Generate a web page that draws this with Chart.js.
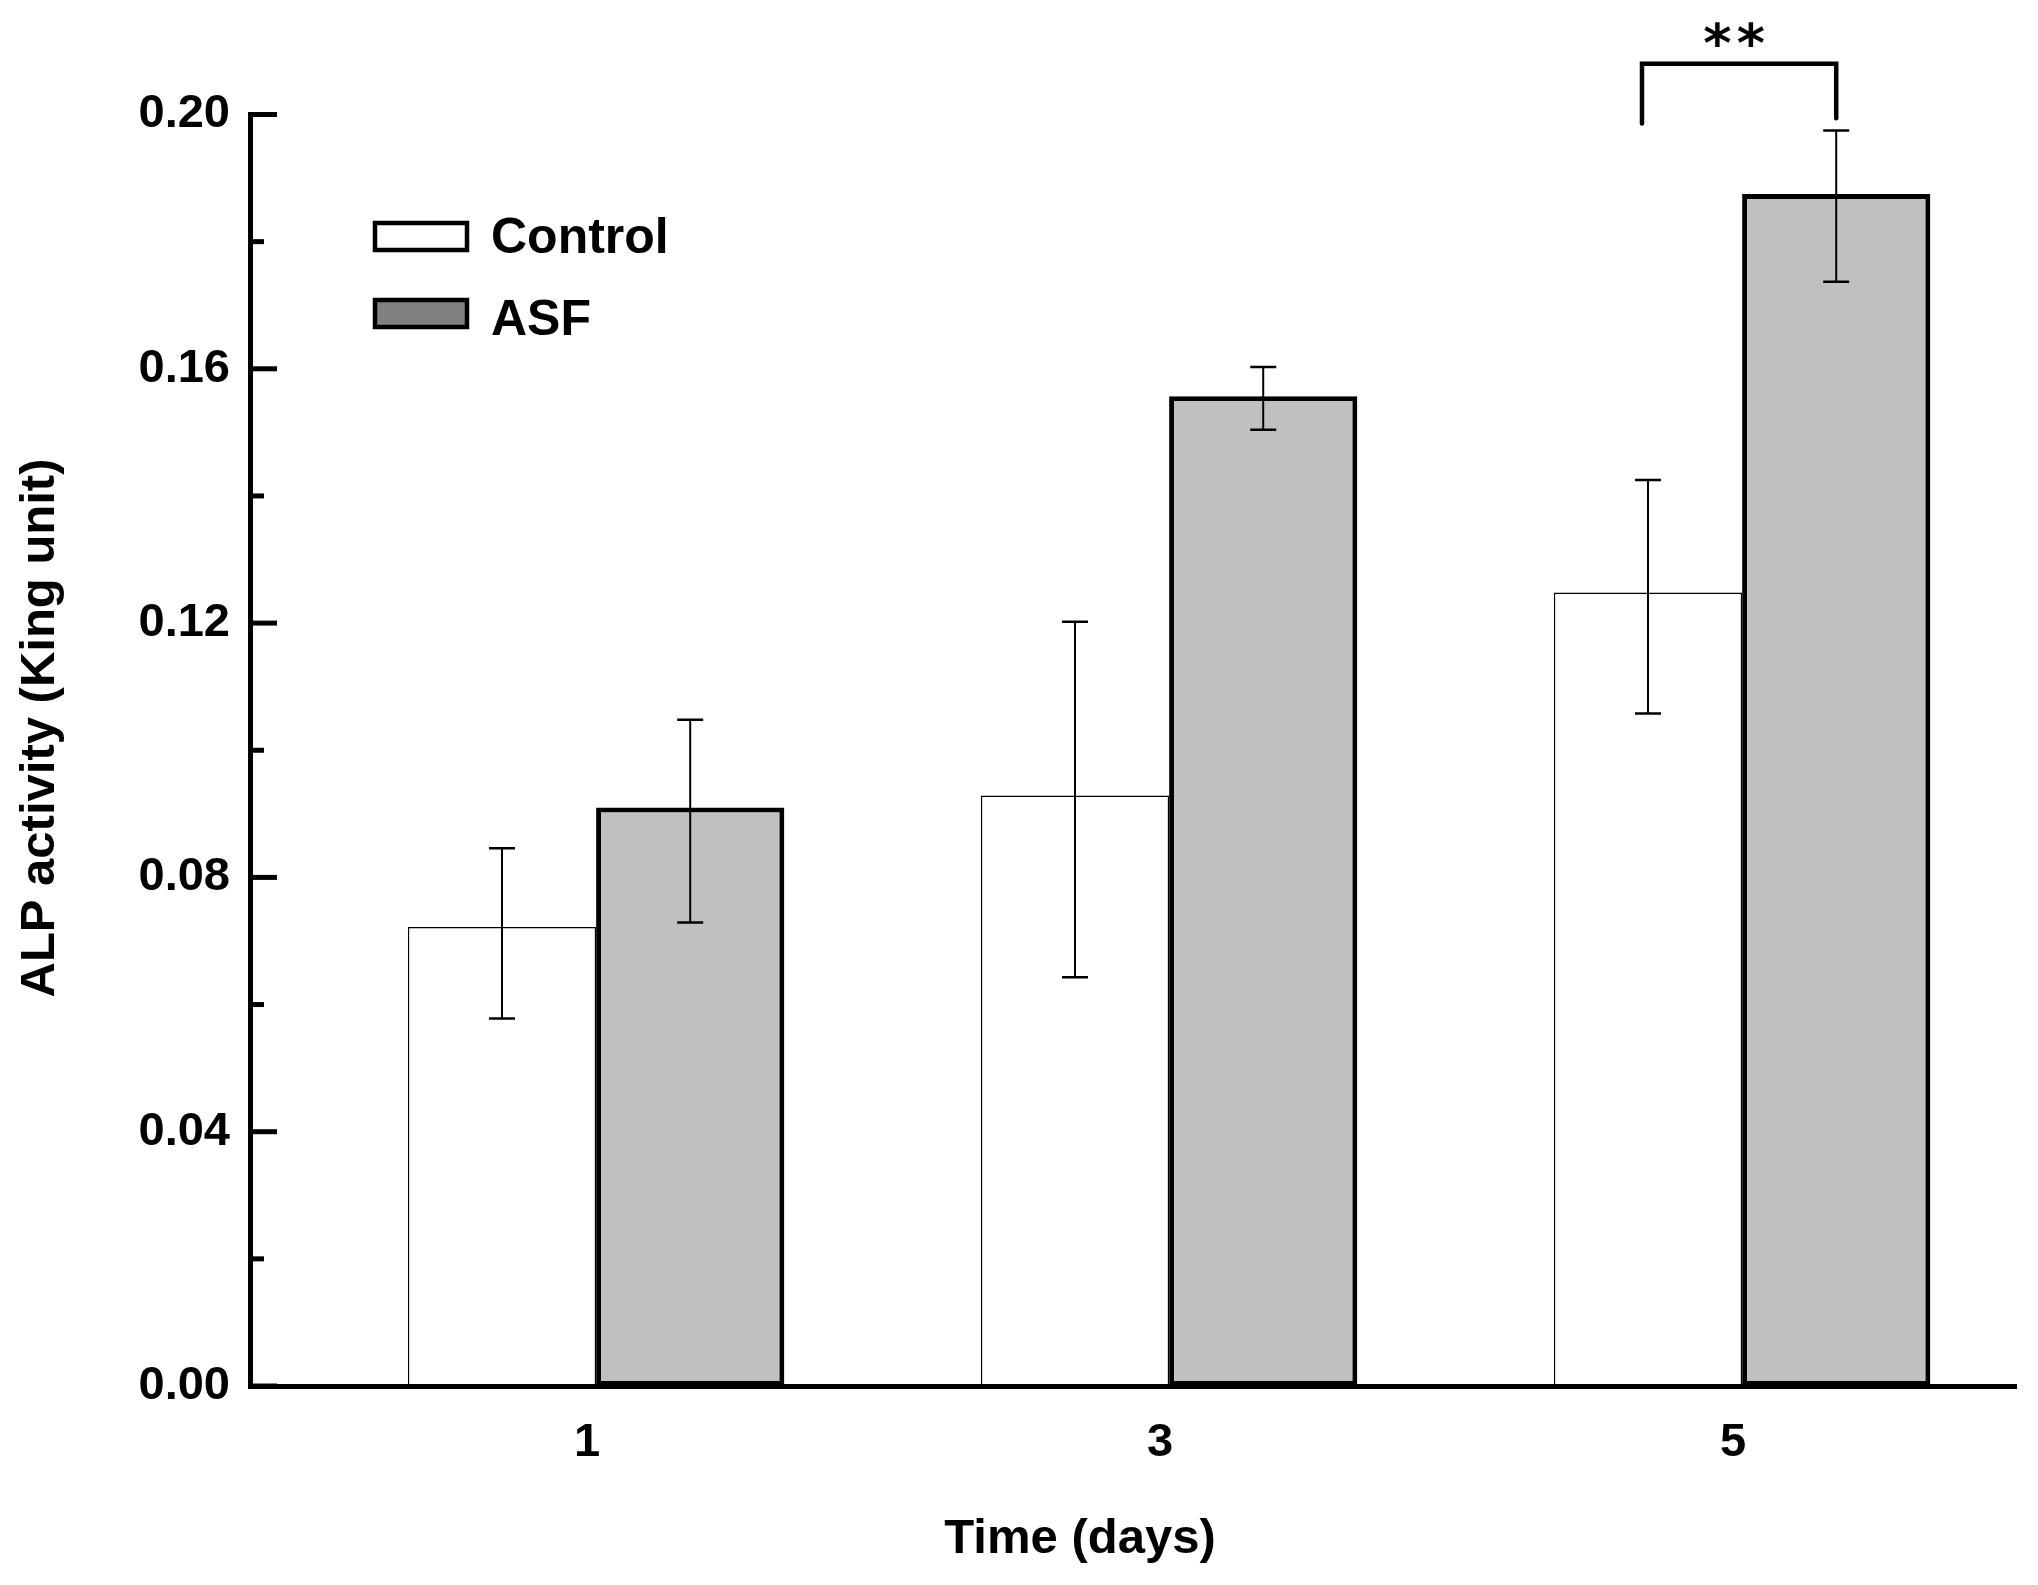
<!DOCTYPE html>
<html>
<head>
<meta charset="utf-8">
<style>
  html, body { margin: 0; padding: 0; background: #ffffff; }
  #wrap { width: 2038px; height: 1585px; position: relative; }
</style>
<script src="https://cdn.jsdelivr.net/npm/chart.js@4.4.0/dist/chart.umd.min.js"></script>
</head>
<body>
<div id="wrap"><canvas id="chart"></canvas></div>
<script>
// ---- data ----
const days = [1, 3, 5];
const xTickLabels = ['1', '3', '5'];
const seriesNames = ['Control', 'ASF'];
const controlMeans = [0.0722, 0.0929, 0.1248];
const asfMeans = [0.0910, 0.1557, 0.1875];
const controlErrLow = [0.0144, 0.0286, 0.0190];
const controlErrHigh = [0.0124, 0.0273, 0.0177];
const asfErrLow = [0.0181, 0.0053, 0.0138];
const asfErrHigh = [0.0138, 0.0046, 0.0100];
const yTickValues = [0, 0.02, 0.04, 0.06, 0.08, 0.10, 0.12, 0.14, 0.16, 0.18, 0.20];
const yTickLabels = ['0.00', '', '0.04', '', '0.08', '', '0.12', '', '0.16', '', '0.20'];
const significanceLabel = '**';
const xTitle = 'Time (days)';
const yTitle = 'ALP activity (King unit)';

const FONT = "'Liberation Sans', Arial, Helvetica, sans-serif";
Chart.defaults.font.family = FONT;
Chart.defaults.font.weight = 'bold';
Chart.defaults.color = '#000';

const errLow = [controlErrLow, asfErrLow];
const errHigh = [controlErrHigh, asfErrHigh];
const legendFill = ['#ffffff', '#808080'];

const overlay = {
  id: 'overlay',
  afterDraw(chart) {
    const { ctx, chartArea, scales } = chart;
    const y = scales.y;
    ctx.save();

    // inward y ticks (major labelled, minor unlabelled)
    ctx.strokeStyle = '#000';
    ctx.lineCap = 'butt';
    ctx.lineWidth = 5;
    yTickValues.forEach((v, i) => {
      const py = y.getPixelForValue(v);
      const len = yTickLabels[i] ? 27 : 14;
      ctx.beginPath();
      ctx.moveTo(chartArea.left, py);
      ctx.lineTo(chartArea.left + len, py);
      ctx.stroke();
    });

    // error bars
    chart.data.datasets.forEach((ds, di) => {
      const meta = chart.getDatasetMeta(di);
      meta.data.forEach((bar, i) => {
        const v = ds.data[i].y;
        const top = y.getPixelForValue(v + errHigh[di][i]);
        const bot = y.getPixelForValue(v - errLow[di][i]);
        const cx = bar.x;
        ctx.strokeStyle = '#000';
        ctx.lineWidth = 2;
        ctx.beginPath();
        ctx.moveTo(cx, top); ctx.lineTo(cx, bot);
        ctx.stroke();
        ctx.lineWidth = 2.5;
        ctx.beginPath();
        ctx.moveTo(cx - 13, top); ctx.lineTo(cx + 13, top);
        ctx.moveTo(cx - 13, bot); ctx.lineTo(cx + 13, bot);
        ctx.stroke();
      });
    });

    // significance bracket on day 5
    const b0 = chart.getDatasetMeta(0).data[2];
    const b1 = chart.getDatasetMeta(1).data[2];
    const yTop = y.getPixelForValue(0.2080);
    const yL = y.getPixelForValue(0.1986);
    const yR = y.getPixelForValue(0.1994);
    ctx.lineWidth = 4.5;
    ctx.lineCap = 'round';
    ctx.beginPath();
    ctx.moveTo(b0.x - 6, yL);
    ctx.lineTo(b0.x - 6, yTop);
    ctx.lineTo(b1.x, yTop);
    ctx.lineTo(b1.x, yR);
    ctx.stroke();
    ctx.fillStyle = '#000';
    ctx.font = 'bold 54px "DejaVu Sans", sans-serif';
    ctx.textAlign = 'center';
    ctx.textBaseline = 'alphabetic';
    const starMid = (b0.x + b1.x) / 2 - 8;
    const chars = significanceLabel.split('');
    chars.forEach((c, k) => {
      const off = (k - (chars.length - 1) / 2) * 33.5;
      ctx.fillText(c, starMid + off, 62);
    });

    // legend
    ctx.lineCap = 'butt';
    const boxTops = [221, 298];
    const textBase = [253, 335];
    ctx.font = 'bold 50px ' + FONT;
    chart.data.datasets.forEach((ds, di) => {
      ctx.fillStyle = legendFill[di];
      ctx.fillRect(375, boxTops[di] + 2, 92, 27);
      ctx.strokeStyle = '#000';
      ctx.lineWidth = 4.5;
      ctx.strokeRect(375, boxTops[di] + 2, 92, 27);
      ctx.fillStyle = '#000';
      ctx.textAlign = 'left';
      ctx.textBaseline = 'alphabetic';
      ctx.fillText(ds.label, 491, textBase[di]);
    });

    // axis titles
    ctx.font = 'bold 49px ' + FONT;
    ctx.textAlign = 'center';
    ctx.textBaseline = 'alphabetic';
    ctx.fillText(xTitle, 1080, 1553);
    ctx.save();
    ctx.translate(54, 728);
    ctx.rotate(-Math.PI / 2);
    ctx.fillText(yTitle, 0, 0);
    ctx.restore();

    ctx.restore();
  }
};

new Chart(document.getElementById('chart'), {
  type: 'bar',
  data: {
    datasets: [
      {
        label: seriesNames[0],
        data: days.map((d, i) => ({ x: d, y: controlMeans[i] })),
        backgroundColor: '#ffffff',
        borderColor: '#000000',
        borderWidth: 1.5
      },
      {
        label: seriesNames[1],
        data: days.map((d, i) => ({ x: d, y: asfMeans[i] })),
        backgroundColor: '#c0c0c0',
        borderColor: '#000000',
        borderWidth: 5,
        borderSkipped: false
      }
    ]
  },
  options: {
    responsive: true,
    maintainAspectRatio: false,
    animation: false,
    categoryPercentage: 0.657,
    barPercentage: 1.0,
    layout: { padding: { left: 0, right: 22, top: 114.5, bottom: 0 } },
    plugins: { legend: { display: false }, tooltip: { enabled: false } },
    scales: {
      x: {
        type: 'linear',
        offset: false,
        min: -0.208,
        max: 5.956,
        afterBuildTicks: (s) => { s.ticks = days.map(v => ({ value: v })); },
        afterFit: (s) => { s.height = 199; },
        ticks: {
          callback: (v, i) => xTickLabels[i],
          font: { size: 47, weight: 'bold' },
          padding: 29,
          labelOffset: -9,
          maxRotation: 0,
          autoSkip: false
        },
        grid: { display: false, drawTicks: false },
        border: { display: true, color: '#000', width: 5, z: 1 }
      },
      y: {
        min: 0,
        max: 0.2,
        afterBuildTicks: (s) => { s.ticks = yTickValues.map(v => ({ value: v })); },
        afterFit: (s) => { s.width = 250; },
        ticks: {
          callback: (v, i) => yTickLabels[i],
          font: { size: 47, weight: 'bold' },
          padding: 20,
          autoSkip: false
        },
        grid: { display: false, drawTicks: false },
        border: { display: true, color: '#000', width: 5, z: 1 }
      }
    }
  },
  plugins: [overlay]
});
</script>
</body>
</html>
